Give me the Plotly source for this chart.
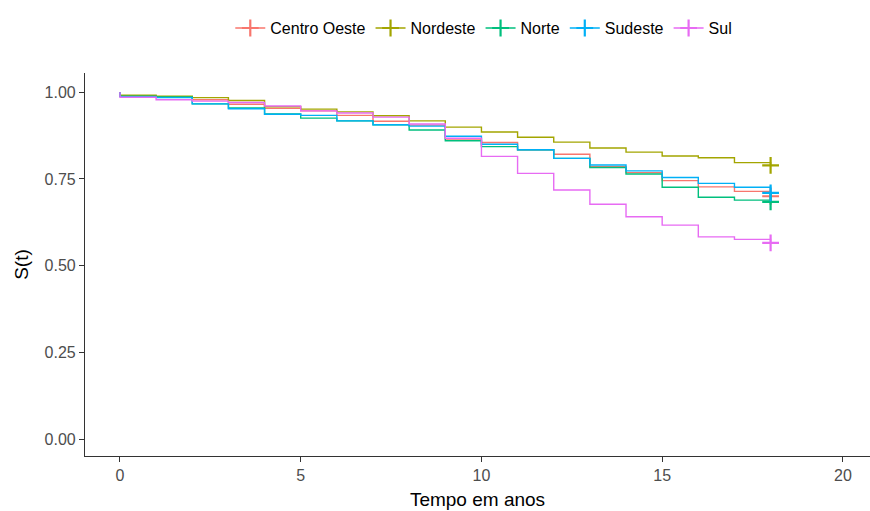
import plotly.graph_objects as go

# Kaplan-Meier step levels for intervals [0,1), [1,2), ..., [17,18) and final value at t=18
regions = ["Centro Oeste", "Nordeste", "Norte", "Sudeste", "Sul"]
colors = ["#F8766D", "#A3A500", "#00BF7D", "#00B0F6", "#E76BF3"]
times = list(range(0, 19))  # 0..18

centro_oeste = [0.988, 0.986, 0.978, 0.965, 0.953, 0.946, 0.933, 0.916, 0.905, 0.865,
                0.855, 0.834, 0.821, 0.785, 0.768, 0.745, 0.727, 0.714, 0.700]
nordeste = [0.991, 0.988, 0.984, 0.976, 0.958, 0.951, 0.943, 0.932, 0.917, 0.899,
            0.885, 0.870, 0.856, 0.839, 0.827, 0.816, 0.811, 0.797, 0.789]
norte = [0.988, 0.986, 0.966, 0.954, 0.937, 0.925, 0.917, 0.906, 0.891, 0.860,
         0.843, 0.834, 0.809, 0.783, 0.764, 0.726, 0.697, 0.689, 0.684]
sudeste = [0.987, 0.984, 0.966, 0.952, 0.936, 0.933, 0.917, 0.906, 0.902, 0.873,
           0.850, 0.834, 0.809, 0.790, 0.773, 0.754, 0.737, 0.726, 0.710]
sul = [0.985, 0.978, 0.974, 0.970, 0.960, 0.946, 0.940, 0.928, 0.908, 0.867,
       0.815, 0.766, 0.718, 0.677, 0.641, 0.617, 0.583, 0.576, 0.566]

series = [centro_oeste, nordeste, norte, sudeste, sul]

x_ticks = [0, 5, 10, 15, 20]
y_ticks = [0.0, 0.25, 0.5, 0.75, 1.0]
y_tick_labels = ["0.00", "0.25", "0.50", "0.75", "1.00"]

fig = go.Figure()
for name, col, vals in zip(regions, colors, series):
    # step path: start at (0,1), drop at 0, then steps at each year, final drop at 18
    xs = [0] + times
    ys = [1.0] + vals
    fig.add_trace(go.Scatter(
        x=xs, y=ys, mode="lines", line=dict(color=col, width=1.4, shape="hv"),
        legendgroup=name, showlegend=False, hoverinfo="skip"))
    fig.add_trace(go.Scatter(
        x=[times[-1]], y=[vals[-1]], mode="lines+markers", name=name,
        legendgroup=name,
        line=dict(color=col, width=1.4),
        marker=dict(symbol="cross-thin", size=12, line=dict(color=col, width=2.2))))

axis_common = dict(
    showgrid=False, zeroline=False, showline=True, linecolor="#333333", linewidth=1.2,
    ticks="outside", ticklen=5, tickwidth=1.2, tickcolor="#333333",
    tickfont=dict(family="Liberation Sans, Arial", size=16, color="#4D4D4D"),
)

fig.update_layout(
    width=870, height=511,
    margin=dict(l=85, r=0, t=73, b=55),
    paper_bgcolor="white", plot_bgcolor="white",
    font=dict(family="Liberation Sans, Arial", color="black"),
    xaxis=dict(range=[-0.968, 20.75], tickvals=x_ticks,
               title=dict(text="Tempo em anos", font=dict(size=19, color="black"), standoff=9),
               **axis_common),
    yaxis=dict(range=[-0.048, 1.055], tickvals=y_ticks, ticktext=y_tick_labels,
               title=dict(text="S(t)", font=dict(size=19, color="black"), standoff=10),
               **axis_common),
    legend=dict(orientation="h", x=0.508, xanchor="center", y=0.945, yanchor="middle",
                yref="container", font=dict(size=16, color="black"),
                itemwidth=30, tracegroupgap=0),
)

fig.write_html("out.html")
